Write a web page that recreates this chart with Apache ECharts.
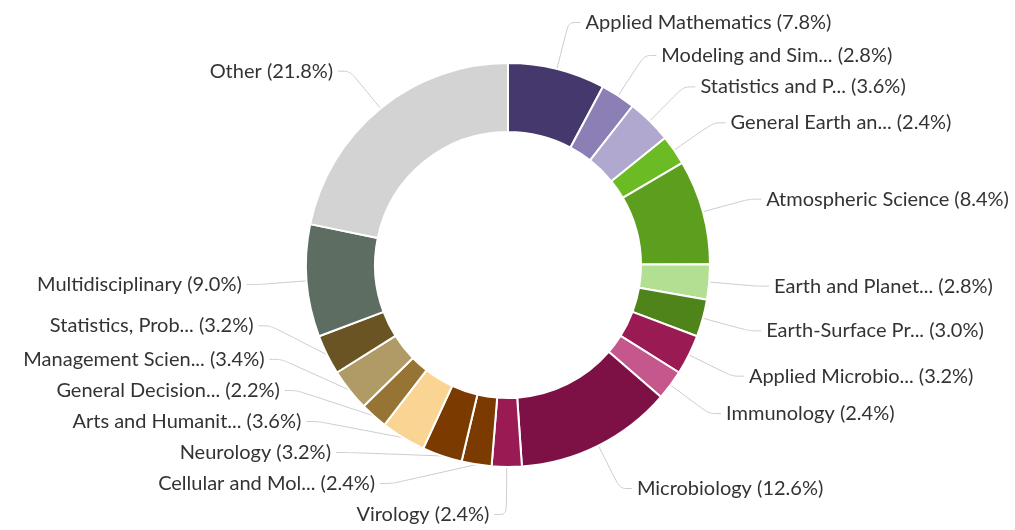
<!DOCTYPE html>
<html>
<head>
<meta charset="utf-8">
<script src="https://cdn.jsdelivr.net/npm/echarts@6/dist/echarts.min.js"></script>
<style>
  html, body { margin: 0; padding: 0; background: #fff; overflow: hidden; }
  #chart { width: 1015px; height: 530px; }
</style>
</head>
<body>
<div id="chart"></div>
<script>
// subject areas, clockwise from the top
const categories = [
  'Applied Mathematics', 'Modeling and Sim...', 'Statistics and P...', 'General Earth an...',
  'Atmospheric Science', 'Earth and Planet...', 'Earth-Surface Pr...', 'Applied Microbio...',
  'Immunology', 'Microbiology', 'Virology', 'Cellular and Mol...', 'Neurology',
  'Arts and Humanit...', 'General Decision...', 'Management Scien...', 'Statistics, Prob...',
  'Multidisciplinary', 'Other'
]
const shares = [7.8, 2.8, 3.6, 2.4, 8.4, 2.8, 3.0, 3.2, 2.4, 12.6, 2.4, 2.4, 3.2, 3.6, 2.2, 3.4, 3.2, 9.0, 21.8]
const colors = [
  '#45386d', '#8b7fb6', '#b0a8cf', '#6bbb24', '#5c9e1e', '#b2df92', '#4e8419', '#9a1a53',
  '#c6578d', '#7d1145', '#9a1a53', '#7b3a00', '#7b3a00', '#fad492', '#957434', '#b09b66',
  '#6b5424', '#5d6d61', '#d3d3d3'
]
// these two labels sit apart from the crowded bottom-left stack,
// so they get their own label pass and are not pushed around by it
const freeLabels = ['Multidisciplinary', 'Other']

const chart = echarts.init(document.getElementById('chart'))

const labelStyle = {
  formatter: p => p.name + ' (' + p.value.toFixed(1) + '%)',
  fontFamily: 'Lato',
  fontSize: 20,
  lineHeight: 22,
  padding: [7, 0, 0, 0], // text sits a little below the end of its line
  color: '#333',
  overflow: 'none'
}
const lineStyle = {
  length: 48,
  length2: 12,
  smooth: 0.3,
  lineStyle: { color: '#cccccc', width: 1 }
}

function pieSeries(showLabel, visible) {
  return {
    type: 'pie',
    center: [508, 265],
    radius: [133, 202],
    startAngle: 90,
    clockwise: true,
    silent: !visible,
    data: categories.map((name, i) => ({
      name: name,
      value: shares[i],
      itemStyle: visible
        ? { color: colors[i], borderColor: '#fff', borderWidth: 2 }
        : { color: 'rgba(0,0,0,0)', borderWidth: 0 },
      label: { show: showLabel(name) },
      labelLine: { show: showLabel(name) }
    })),
    label: labelStyle,
    labelLine: lineStyle,
    emphasis: { disabled: true }
  }
}

const option = {
  animation: false,
  series: [
    pieSeries(name => freeLabels.indexOf(name) < 0, true),
    pieSeries(name => freeLabels.indexOf(name) >= 0, false)
  ]
}

chart.setOption(option)
</script>
</body>
</html>
